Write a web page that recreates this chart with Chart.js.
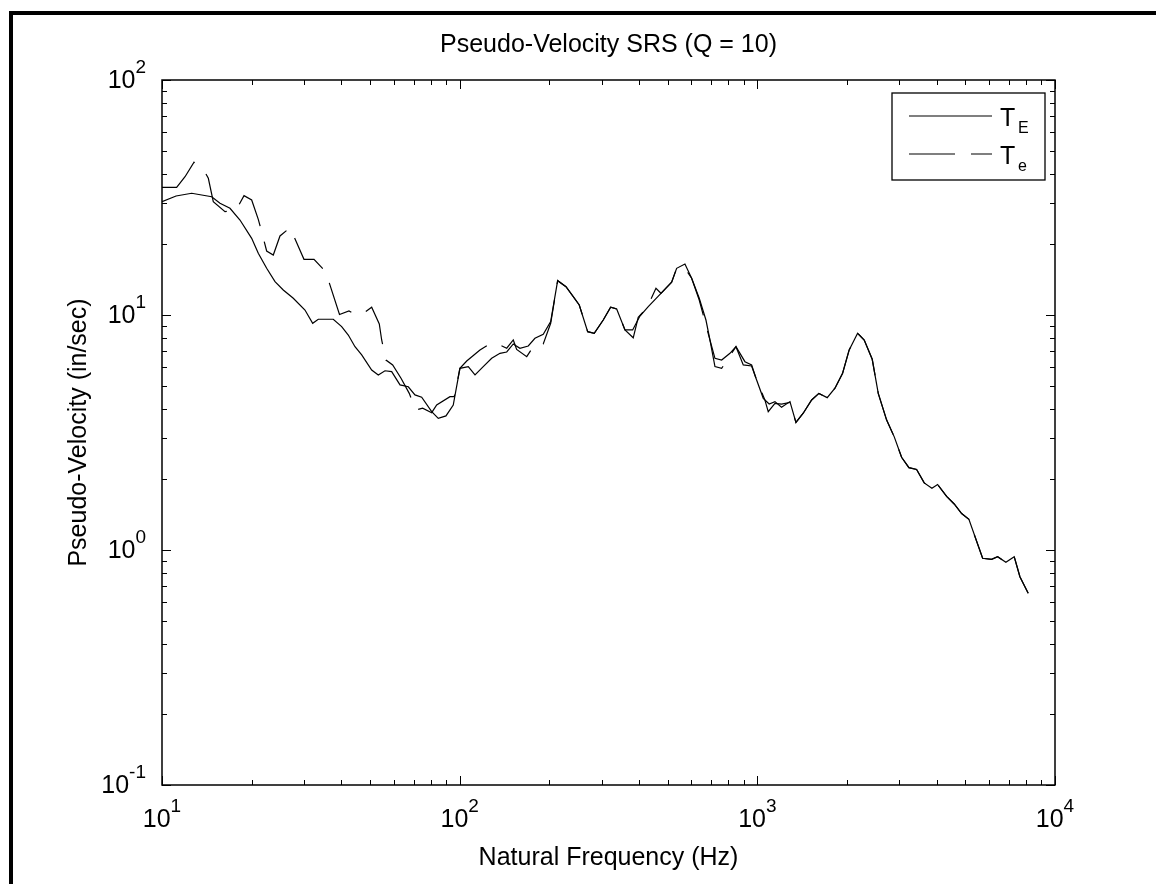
<!DOCTYPE html>
<html>
<head>
<meta charset="utf-8">
<title>Pseudo-Velocity SRS</title>
<script src="https://cdn.jsdelivr.net/npm/chart.js@4.4.1/dist/chart.umd.min.js"></script>
<style>
  html, body { margin: 0; padding: 0; background: #fff; }
  #wrap { width: 1156px; height: 884px; }
</style>
</head>
<body>
<div id="wrap"><canvas id="srsChart" width="1156" height="884"></canvas></div>
<script>
// SRS of the two records, natural frequency (Hz) vs pseudo-velocity (in/sec)
const freqE = [10, 11.15, 12.58, 14.69, 15.66, 16.92, 18.28, 20.01, 21.06, 22.47,
    23.97, 25.55, 27.61, 30.22, 32.08, 33.5, 37.62, 40.14, 42.25, 44.5,
    46.87, 50.63, 53.29, 56.12, 59.1, 63.04, 67.2, 70.77, 74.54, 80.54,
    84.75, 89.94, 95.16, 100.2, 106.9, 112.6, 120.0, 128.1, 136.6, 143.9,
    151.4, 159.4, 170.0, 179.0, 190.9, 202.2, 213.4, 227.6, 240.8, 252.2,
    269.2, 283.2, 303.6, 321.5, 336.9, 359.2, 381.2, 403.3, 430.1, 474.5,
    515.4, 535.7, 571.2, 601.6, 638.0, 672.0, 693.0, 720.5, 758.8, 809.2,
    847.7, 896.9, 956.8, 994.5, 1047, 1096, 1146, 1206, 1287, 1348,
    1426, 1522, 1610, 1717, 1823, 1934, 2035, 2172, 2286, 2432,
    2548, 2719, 2884, 3052, 3230, 3428, 3636, 3859, 4033, 4324,
    4585, 4857, 5138, 5713, 6124, 6416, 6839, 7295, 7623, 8128];
const velE = [30.35, 32.1, 32.96, 31.87, 29.88, 28.44, 25.37, 21.2, 18.31, 15.8,
    13.86, 12.78, 11.78, 10.5, 9.22, 9.59, 9.59, 8.92, 8.22, 7.33,
    6.76, 5.83, 5.56, 5.79, 5.74, 5.04, 4.95, 4.57, 4.47, 3.88,
    3.63, 3.72, 4.14, 5.93, 6.03, 5.56, 6.03, 6.54, 6.87, 6.96,
    7.53, 7.22, 7.38, 7.96, 8.28, 9.37, 14.0, 13.2, 11.97, 11.03,
    8.49, 8.36, 9.52, 10.79, 10.61, 8.64, 8.64, 9.9, 10.85, 12.37,
    13.78, 15.8, 16.48, 14.33, 11.78, 9.52, 7.83, 6.54, 6.43, 6.87,
    7.33, 6.13, 6.07, 5.29, 4.42, 4.18, 4.28, 4.05, 4.28, 3.49,
    3.82, 4.35, 4.64, 4.45, 4.88, 5.65, 7.1, 8.36, 7.83, 6.48,
    4.64, 3.57, 3.03, 2.48, 2.24, 2.2, 1.93, 1.83, 1.9, 1.69,
    1.57, 1.43, 1.35, 0.922, 0.913, 0.936, 0.886, 0.936, 0.77, 0.654];

const freqe = [10, 11.2, 11.95, 12.81, 13.95, 14.31, 14.87, 16.28, 17.73, 18.86,
    20.01, 21.06, 21.72, 22.47, 23.65, 24.91, 26.92, 29.99, 32.41, 35.46,
    39.47, 42.47, 44.84, 47.45, 50.63, 53.7, 54.7, 56.55, 59.56, 63.53,
    67.71, 71.15, 75.1, 80.54, 83.7, 92.78, 95.9, 100.2, 105.6, 117.0,
    128.1, 136.6, 143.9, 151.4, 155.4, 168.0, 179.0, 190.9, 202.2, 213.4,
    227.6, 252.2, 269.2, 283.2, 303.6, 321.5, 336.9, 359.2, 382.9, 398.0,
    424.8, 456.5, 474.5, 515.4, 535.7, 571.2, 601.6, 638.0, 693.0, 720.5,
    758.8, 847.7, 908.6, 956.8, 994.5, 1060, 1088, 1146, 1206, 1287,
    1348, 1426, 1522, 1610, 1717, 1823, 1934, 2035, 2172, 2286,
    2432, 2548, 2719, 2884, 3052, 3230, 3428, 3636, 3859, 4033,
    4324, 4585, 4857, 5138, 5713, 6124, 6416, 6839, 7295, 7623, 8128];
const vele = [34.94, 34.94, 38.77, 44.65, 40.48, 38.17, 30.35, 27.52, 27.98, 32.19,
    30.86, 25.54, 22.12, 18.72, 18.0, 21.69, 23.52, 17.26, 17.26, 15.29,
    10.05, 10.4, 10.0, 10.17, 10.79, 9.16, 7.83, 6.43, 6.13, 5.38,
    4.64, 3.94, 4.01, 3.84, 4.14, 4.49, 4.49, 5.93, 6.37, 7.1,
    7.62, 7.45, 7.22, 7.83, 7.14, 6.65, 7.53, 7.53, 9.22, 14.0,
    13.2, 11.03, 8.49, 8.36, 9.52, 10.79, 10.61, 8.64, 8.0, 9.78,
    10.68, 12.99, 12.37, 13.78, 15.8, 15.8, 14.33, 11.58, 7.83, 6.03,
    5.93, 7.33, 6.33, 6.13, 5.29, 4.35, 3.88, 4.21, 4.18, 4.25,
    3.49, 3.82, 4.35, 4.64, 4.45, 4.88, 5.65, 7.1, 8.36, 7.83,
    6.48, 4.64, 3.57, 3.03, 2.48, 2.24, 2.2, 1.93, 1.83, 1.9,
    1.69, 1.57, 1.43, 1.35, 0.922, 0.913, 0.936, 0.886, 0.936, 0.77, 0.654];

// decade labels, drawn as 10^n
const xExponents = [1, 2, 3, 4];
const yExponents = [-1, 0, 1, 2];

const FONT = '"Liberation Sans", Arial, Helvetica, sans-serif';

function isDecade(v) {
    const l = Math.log10(v);
    return Math.abs(l - Math.round(l)) < 1e-6;
}

// keep 1..9 x 10^n ticks only (the log scale also emits 15 x 10^n)
function isWholeMantissa(v) {
    const m = v / Math.pow(10, Math.floor(Math.log10(v) + 1e-9));
    return Math.abs(m - Math.round(m)) < 1e-6;
}

function seg(ctx, x1, y1, x2, y2) {
    ctx.beginPath();
    ctx.moveTo(x1, y1);
    ctx.lineTo(x2, y2);
    ctx.stroke();
}

// "10" with a raised exponent
function drawPower(ctx, ax, baseline, n, align) {
    const base = '10', exp = String(n);
    ctx.font = '25px ' + FONT;
    const wb = ctx.measureText(base).width;
    ctx.font = '19px ' + FONT;
    const we = ctx.measureText(exp).width;
    const start = align === 'center' ? ax - (wb + we) / 2 : ax - (wb + we);
    ctx.textAlign = 'left';
    ctx.textBaseline = 'alphabetic';
    ctx.font = '25px ' + FONT;
    ctx.fillText(base, start, baseline);
    ctx.font = '19px ' + FONT;
    ctx.fillText(exp, start + wb, baseline - 15);
}

const figureDecor = {
    id: 'figureDecor',
    beforeDraw(chart) {
        const ctx = chart.ctx;
        ctx.save();
        ctx.fillStyle = '#fff';
        ctx.fillRect(0, 0, chart.width, chart.height);
        // figure frame, left and top edges
        ctx.fillStyle = '#000';
        ctx.fillRect(9, 11, 4, chart.height - 11);
        ctx.fillRect(9, 11, chart.width - 9, 4);
        ctx.restore();
    },
    afterDraw(chart) {
        const { ctx, chartArea: a, scales: { x, y } } = chart;
        ctx.save();
        ctx.strokeStyle = '#000';
        ctx.fillStyle = '#000';

        // inward ticks on all four sides
        ctx.lineWidth = 1;
        x.ticks.filter(t => isWholeMantissa(t.value)).forEach(t => {
            const px = Math.round(x.getPixelForValue(t.value)) + 0.5;
            const len = isDecade(t.value) ? 9 : 5;
            seg(ctx, px, a.bottom, px, a.bottom - len);
            seg(ctx, px, a.top, px, a.top + len);
        });
        y.ticks.filter(t => isWholeMantissa(t.value)).forEach(t => {
            const py = Math.round(y.getPixelForValue(t.value)) + 0.5;
            const len = isDecade(t.value) ? 9 : 5;
            seg(ctx, a.left, py, a.left + len, py);
            seg(ctx, a.right, py, a.right - len, py);
        });

        // axes box
        ctx.lineWidth = 1.5;
        ctx.strokeRect(a.left, a.top, a.right - a.left, a.bottom - a.top);

        xExponents.forEach(n => {
            drawPower(ctx, x.getPixelForValue(Math.pow(10, n)), a.bottom + 42, n, 'center');
        });
        yExponents.forEach(n => {
            drawPower(ctx, a.left - 16, y.getPixelForValue(Math.pow(10, n)) + 8, n, 'right');
        });

        // legend box, top right
        const lg = { left: a.right - 163, top: a.top + 13, width: 153, height: 87 };
        ctx.fillStyle = '#fff';
        ctx.fillRect(lg.left, lg.top, lg.width, lg.height);
        ctx.lineWidth = 1.3;
        ctx.strokeRect(lg.left, lg.top, lg.width, lg.height);
        chart.data.datasets.forEach((ds, i) => {
            const rowY = lg.top + 23 + i * 38;
            ctx.lineWidth = ds.borderWidth;
            ctx.setLineDash(ds.borderDash || []);
            seg(ctx, lg.left + 17, rowY, lg.left + 100, rowY);
            ctx.setLineDash([]);
            const [main, sub] = ds.label.split('_');
            ctx.fillStyle = '#000';
            ctx.textAlign = 'left';
            ctx.textBaseline = 'alphabetic';
            ctx.font = '25px ' + FONT;
            ctx.fillText(main, lg.left + 108, rowY + 10);
            ctx.font = '16px ' + FONT;
            ctx.fillText(sub, lg.left + 126, rowY + 17);
        });
        ctx.restore();
    }
};

document.addEventListener('DOMContentLoaded', function() {
    const ctx = document.getElementById('srsChart').getContext('2d');
    new Chart(ctx, {
        type: 'line',
        data: {
            datasets: [{
                label: 'T_E',
                data: freqE.map((f, i) => ({ x: f, y: velE[i] })),
                borderColor: '#000',
                borderWidth: 1.2,
                pointRadius: 0,
                tension: 0,
                fill: false
            }, {
                label: 'T_e',
                data: freqe.map((f, i) => ({ x: f, y: vele[i] })),
                borderColor: '#000',
                borderWidth: 1.2,
                borderDash: [46, 16],
                pointRadius: 0,
                tension: 0,
                fill: false
            }]
        },
        options: {
            responsive: false,
            animation: false,
            devicePixelRatio: 1,
            layout: { padding: { left: 12, right: 101, top: 0, bottom: 0 } },
            plugins: {
                legend: { display: false },
                tooltip: { enabled: false },
                title: {
                    display: true,
                    text: 'Pseudo-Velocity SRS (Q = 10)',
                    fullSize: false,
                    color: '#000',
                    font: { family: FONT, size: 25, weight: 'normal', lineHeight: 1.2 },
                    padding: { top: 30, bottom: 20 }
                }
            },
            scales: {
                x: {
                    type: 'logarithmic',
                    min: 10,
                    max: 10000,
                    grid: { display: false },
                    border: { display: false },
                    ticks: { display: false },
                    title: {
                        display: true,
                        text: 'Natural Frequency (Hz)',
                        color: '#000',
                        font: { family: FONT, size: 25, lineHeight: 1.2 },
                        padding: { top: 0, bottom: 11 }
                    },
                    afterFit: s => { s.height = 99; }
                },
                y: {
                    type: 'logarithmic',
                    min: 0.1,
                    max: 100,
                    grid: { display: false },
                    border: { display: false },
                    ticks: { display: false },
                    title: {
                        display: true,
                        text: 'Pseudo-Velocity (in/sec)',
                        color: '#000',
                        font: { family: FONT, size: 25, lineHeight: 1.2 },
                        padding: { top: 52, bottom: 0 }
                    },
                    afterFit: s => { s.width = 150; }
                }
            }
        },
        plugins: [figureDecor]
    });
});
</script>
</body>
</html>
